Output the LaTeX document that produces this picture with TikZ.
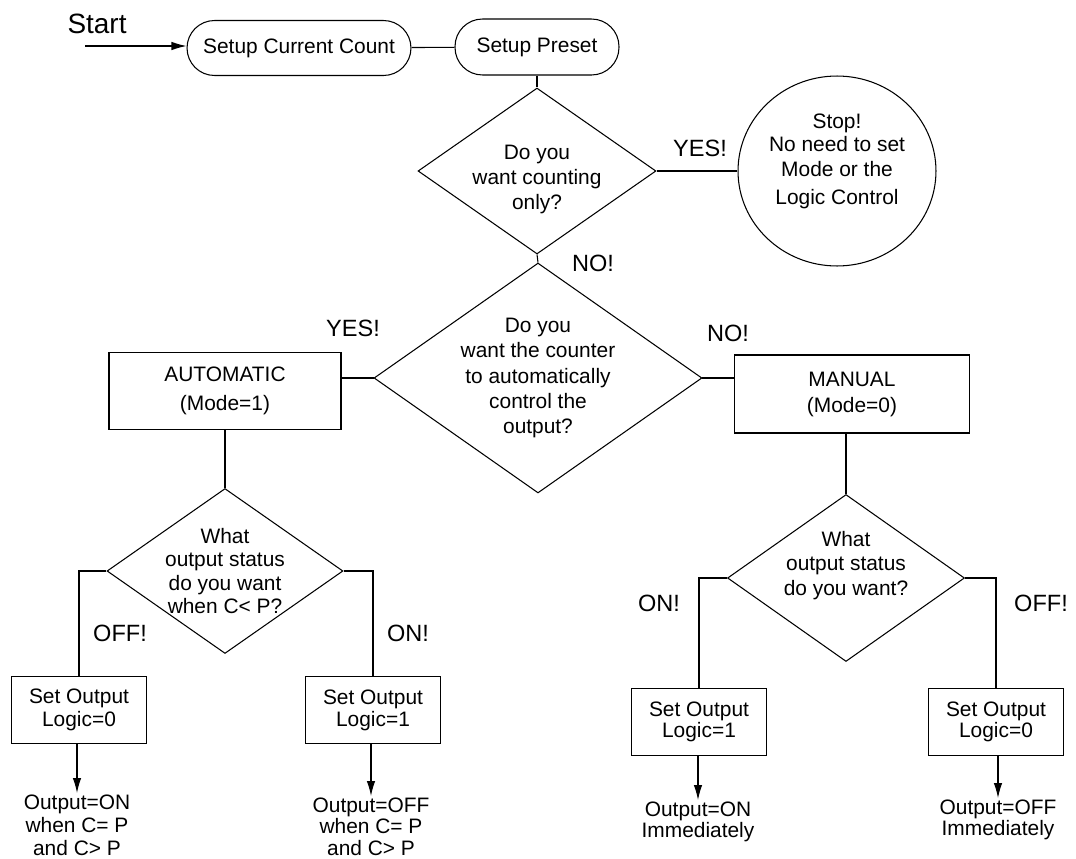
\documentclass[tikz,border=0pt]{standalone}
\usepackage{fontspec}
\setmainfont{Liberation Sans}
\usetikzlibrary{shapes.geometric,arrows.meta}

\tikzset{
  txt/.style={font=\fontsize{11.9}{13.7}\selectfont, align=center},
  term/.style={txt, draw, rectangle, rounded corners=0.55cm, minimum height=1.1cm, inner sep=0pt},
  decision/.style={txt, draw, diamond, shape aspect=1.43, inner sep=-0.3cm},
  box/.style={txt, draw, rectangle, inner sep=0pt},
  answer/.style={font=\fontsize{13.4}{16}\selectfont},
  result/.style={txt, anchor=north, inner sep=1pt},
  arr/.style={-{Latex[length=0.3cm,width=0.17cm]}},
}

\begin{document}
\begin{tikzpicture}[x=0.02cm, y=-0.02cm, line width=0.6pt]
  \useasboundingbox (0,0) rectangle (1076,859);

  % Start
  \node[anchor=base west, font=\fontsize{15.9}{18}\selectfont, inner sep=0pt] (start) at (67,33) {Start};
  \coordinate (in) at (85,46);
  \node[term, minimum width=4.48cm] (count) at (299,48) {Setup Current Count};
  \node[term, minimum width=3.28cm, minimum height=1.12cm] (preset) at (537,47) {Setup Preset};

  % Counting only?
  \node[decision, minimum width=4.76cm, minimum height=3.32cm, text height=1.64cm, text depth=0.08cm,
        font=\fontsize{11.9}{14.3}\selectfont] (only) at (537,171) {Do you\\want counting\\only?};
  \node[txt, draw, ellipse, minimum width=3.96cm, minimum height=3.8cm, inner sep=-0.1cm,
        text height=1.46cm, text depth=0.1cm] (stop) at (837,171)
        {Stop!\\[-0.6pt]No need to set\\[0.6pt]Mode or the\\[2.3pt]Logic Control};
  \node[answer] (yes1) at (700,148) {YES!};
  \node[answer] (no1) at (593,263) {NO!};

  % Mode
  \node[decision, minimum width=6.56cm, minimum height=4.6cm,
        font=\fontsize{11.9}{14.5}\selectfont] (ctrl) at (538,378)
        {Do you\\want the counter\\to automatically\\control the\\output?};
  \node[box, minimum width=4.64cm, minimum height=1.54cm,
        font=\fontsize{11.9}{16.5}\selectfont] (auto) at (225,391) {AUTOMATIC\\(Mode=1)};
  \node[box, minimum width=4.7cm, minimum height=1.56cm,
        font=\fontsize{11.9}{14.8}\selectfont] (manual) at (852,394) {MANUAL\\(Mode=0)};
  \node[answer] (yes2) at (353,328) {YES!};
  \node[answer] (no2) at (728,333) {NO!};

  % Output status
  \node[decision, minimum width=4.72cm, minimum height=3.3cm,
        font=\fontsize{11.9}{13.4}\selectfont] (autoq) at (225,571)
        {What\\output status\\do you want\\when C< P?};
  \node[decision, minimum width=4.74cm, minimum height=3.34cm, text height=0.78cm, text depth=0.1cm]
        (manq) at (846,578) {What\\output status\\do you want?};
  \node[answer] (off1) at (120,633) {OFF!};
  \node[answer] (on1) at (408,633) {ON!};
  \node[answer] (on2) at (659,603) {ON!};
  \node[answer] (off2) at (1041,603) {OFF!};

  % Logic
  \node[box, minimum width=2.7cm, minimum height=1.34cm,
        font=\fontsize{11.9}{13.1}\selectfont] (autooff) at (79,710) {Set Output\\Logic=0};
  \node[box, minimum width=2.7cm, minimum height=1.34cm,
        font=\fontsize{11.9}{12.6}\selectfont] (autoon) at (373,710) {Set Output\\Logic=1};
  \node[box, minimum width=2.7cm, minimum height=1.34cm,
        font=\fontsize{11.9}{12.2}\selectfont] (manon) at (699,722) {Set Output\\Logic=1};
  \node[box, minimum width=2.7cm, minimum height=1.34cm,
        font=\fontsize{11.9}{12.2}\selectfont] (manoff) at (996,722) {Set Output\\Logic=0};

  % Results
  \node[result, font=\fontsize{11.9}{13}\selectfont] (res1) at (77,793) {Output=ON\\when C= P\\and C> P};
  \node[result, font=\fontsize{11.9}{12}\selectfont] (res2) at (371,796) {Output=OFF\\when C= P\\and C> P};
  \node[result, font=\fontsize{11.9}{11.6}\selectfont] (res3) at (698,800) {Output=ON\\Immediately};
  \node[result, font=\fontsize{11.9}{11.6}\selectfont] (res4) at (998,798) {Output=OFF\\Immediately};

  % Connectors
  \draw[arr] (in) -- (in -| count.west);
  \draw (count) -- (preset);
  \draw (preset) -- (only);
  \draw (only) -- (stop);
  \draw (only.south) -- (ctrl.north);
  \draw (ctrl.west) -- (ctrl.west -| auto.east);
  \draw (ctrl.east) -- (ctrl.east -| manual.west);
  \draw (auto) -- (autoq);
  \draw (manual.south -| manq.north) -- (manq.north);
  \draw (autoq.west) -| (autooff.north);
  \draw (autoq.east) -| (autoon.north);
  \draw (manq.west) -| (manon.north);
  \draw (manq.east) -| (manoff.north);
  \draw[arr] (autooff.south -| res1.north) -- (res1.north);
  \draw[arr] (autoon.south -| res2.north) -- (res2.north);
  \draw[arr] (manon.south -| res3.north) -- (res3.north);
  \draw[arr] (manoff.south -| res4.north) -- (res4.north);
\end{tikzpicture}
\end{document}
